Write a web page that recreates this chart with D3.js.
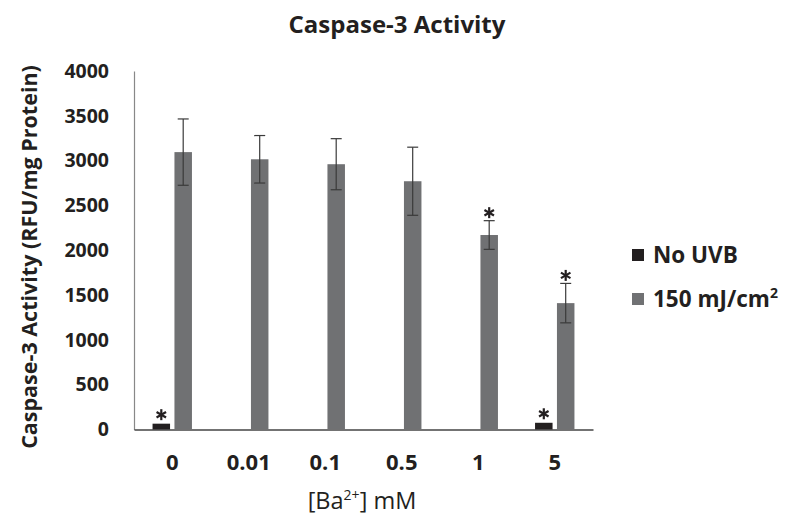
<!DOCTYPE html>
<html><head><meta charset="utf-8">
<script src="https://cdn.jsdelivr.net/npm/d3@7"></script>
<style>body{margin:0;background:#fff}svg{display:block}text{font-family:"Open Sans",sans-serif;font-weight:bold;fill:#231f20}</style>
</head><body>
<script>
const categories = ["0","0.01","0.1","0.5","1","5"];
const seriesNames = ["No UVB","150 mJ/cm²"];
const noUVB = [65, null, null, null, null, 75];
const noUVBErr = [8, null, null, null, null, 8];
const uvb = [3095, 3015, 2960, 2770, 2170, 1410];
const uvbErr = [370, 265, 285, 380, 160, 220];
const noUVBStar = [true, false, false, false, false, true];
const uvbStar = [false, false, false, false, true, true];
const yTicks = [0,500,1000,1500,2000,2500,3000,3500,4000];

const W=785,H=518;
const svg=d3.select("body").append("svg").attr("width",W).attr("height",H);
const x0=134,x1=593,yTop=71,yBase=429.5;
const x=d3.scaleBand().domain(categories).range([x0,x1]);
const y=d3.scaleLinear().domain([0,4000]).range([yBase,yTop]);
const colors=["#231f20","#707173"];
const bw=17.5, gap=2.2;

svg.append("text").attr("x",397).attr("y",33).attr("text-anchor","middle").style("font-size","24px").text("Caspase-3 Activity");

const ya=svg.append("g").attr("transform",`translate(${x0},0)`).call(d3.axisLeft(y).tickValues(yTicks).tickFormat(d3.format("d")).tickSize(0).tickPadding(25));
ya.select(".domain").attr("stroke","#888").attr("stroke-width",1.2);
ya.selectAll("text").style("font-size","19.5px").style("font-family","'Open Sans',sans-serif").style("font-weight","bold").attr("fill","#231f20");

const xa=svg.append("g").attr("transform",`translate(0,${yBase})`).call(d3.axisBottom(x).tickSize(0).tickPadding(25));
xa.select(".domain").attr("stroke","#444").attr("stroke-width",1.5);
xa.selectAll("text").style("font-size","22px").style("font-family","'Open Sans',sans-serif").style("font-weight","bold").attr("fill","#231f20");

function star(cx,cy){
  const r=5.5;
  [90,30,150].forEach(a=>{
    const rad=a*Math.PI/180, dx=r*Math.cos(rad), dy=r*Math.sin(rad);
    svg.append("line").attr("x1",cx-dx).attr("y1",cy-dy).attr("x2",cx+dx).attr("y2",cy+dy).attr("stroke","#231f20").attr("stroke-width",2.2);
  });
}

const cx=c=>x(c)+x.bandwidth()/2;
const g=svg.append("g");
categories.forEach((c,i)=>{
  if(noUVB[i]!=null){
    const bx=cx(c)-gap-bw;
    g.append("rect").attr("x",bx).attr("y",y(noUVB[i])).attr("width",bw).attr("height",yBase-y(noUVB[i])).attr("fill",colors[0]);
    if(noUVBStar[i]) star(bx+bw/2, y(noUVB[i])-9);
  }
  const gx=cx(c)+gap;
  g.append("rect").attr("x",gx).attr("y",y(uvb[i])).attr("width",bw).attr("height",yBase-y(uvb[i])).attr("fill",colors[1]);
  const ex=gx+bw/2, t=y(uvb[i]+uvbErr[i]), b=y(uvb[i]-uvbErr[i]);
  g.append("line").attr("x1",ex).attr("x2",ex).attr("y1",t).attr("y2",b).attr("stroke","#3a3a3a").attr("stroke-width",1.2);
  [t,b].forEach(v=>g.append("line").attr("x1",ex-5.5).attr("x2",ex+5.5).attr("y1",v).attr("y2",v).attr("stroke","#3a3a3a").attr("stroke-width",1.2));
  if(uvbStar[i]) star(ex, t-8);
});

svg.append("text").attr("transform","translate(37,257) rotate(-90)").attr("text-anchor","middle").style("font-size","21.5px").text("Caspase-3 Activity (RFU/mg Protein)");
const xt=svg.append("text").attr("x",362).attr("y",509).attr("text-anchor","middle").style("font-size","23.5px").style("font-weight","normal");
xt.append("tspan").text("[Ba");
xt.append("tspan").attr("dy",-9).style("font-size","14px").text("2+");
xt.append("tspan").attr("dy",9).text("] mM");

const lg=svg.append("g");
[0,1].forEach(i=>{
  const ly=249+i*44;
  lg.append("rect").attr("x",632).attr("y",ly).attr("width",12).attr("height",12).attr("fill",colors[i]);
  const t=lg.append("text").attr("x",653).attr("y",ly+14).style("font-size","22.5px");
  if(i===0) t.text(seriesNames[0]);
  else { t.append("tspan").text("150 mJ/cm"); t.append("tspan").attr("dy",-9).style("font-size","14px").text("2"); }
});
</script>
</body></html>
